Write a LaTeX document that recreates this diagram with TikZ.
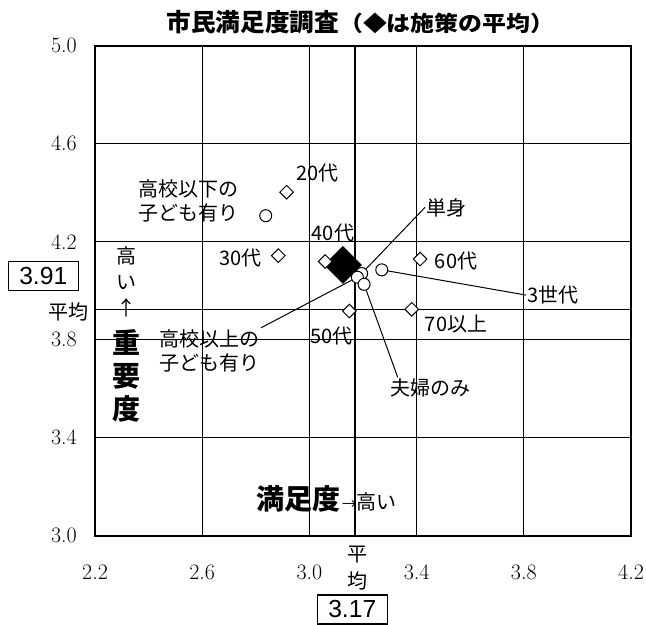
\documentclass[tikz,border=0pt]{standalone}
\usepackage{fontspec}
\usepackage{graphicx}
\newfontfamily\jp{Noto Sans CJK JP}
\newfontfamily\arial{Liberation Sans}
\usetikzlibrary{shapes.geometric}

\begin{document}
\begin{tikzpicture}[x=201pt, y=183.75pt,
		lbl/.style={font=\jp\fontsize{15}{18.5}\selectfont, inner sep=1pt, align=center},
		tick/.style={font=\fontsize{16.5}{20}\selectfont, inner sep=0pt},
		valbox/.style={draw, line width=1.1pt, font=\arial\fontsize{18.5}{20}\selectfont, minimum width=52.5pt, minimum height=21.75pt, inner sep=0pt},
		dia/.style={diamond, draw, fill=white, line width=0.75pt, inner sep=0pt, minimum width=10.5pt, minimum height=10.5pt},
		bigdia/.style={diamond, fill=black, inner sep=0pt, minimum width=28.5pt, minimum height=28.5pt},
		cir/.style={circle, draw, fill=white, line width=0.75pt, inner sep=0pt, minimum size=9pt},
		leader/.style={line width=0.75pt}]
		\useasboundingbox (1.8455,2.6355) rectangle (4.2560,5.18653);

		% Titolo
		\node[font=\jp\bfseries, inner sep=0pt] (title) at (3.19,5.095) {{\fontsize{18.5}{20}\selectfont 市民満足度調査}{\fontsize{16}{20}\selectfont\scalebox{1.12}[1]{（◆は施策の平均）}}};

		% Griglia
		\draw[line width=0.75pt] (2.6,3) -- (2.6,5) (3.0,3) -- (3.0,5) (3.4,3) -- (3.4,5) (3.8,3) -- (3.8,5)
			(2.2,3.4) -- (4.2,3.4) (2.2,3.8) -- (4.2,3.8) (2.2,4.2) -- (4.2,4.2) (2.2,4.6) -- (4.2,4.6);

		% Medie
		\draw[line width=1.3pt] (3.17,3) -- (3.17,5);
		\draw[line width=1.3pt] (2.2,3.923) -- (4.2,3.923);
		\draw[line width=1.5pt] (2.2,3) rectangle (4.2,5);

		% Assi
		\foreach \v [count=\i] in {3.0,3.4,3.8,4.2,4.6,5.0}
			\node[tick, anchor=east] (yt\i) at (2.133,\v) {\v};
		\foreach \v [count=\i] in {2.2,2.6,3.0,3.4,3.8,4.2}
			\node[tick] (xt\i) at (\v,2.852) {\v};

		\node[lbl, anchor=east] (ymean) at (2.183,3.914) {平均};
		\node[lbl, font=\jp\fontsize{15}{20}\selectfont] (xmean) at (3.18,2.8665) {平\\均};
		\node[valbox] (yval) at (2.007,4.059) {3.91};
		\node[valbox] (xval) at (3.160,2.699) {3.17};

		\node[lbl, font=\jp\fontsize{15}{19.5}\selectfont] (yhigh) at (2.318,4.0355) {高\\い\\↑};
		\node[lbl, font=\jp\bfseries\fontsize{21}{24.75}\selectfont] (yname) at (2.318,3.652) {重\\要\\度};
		\node[lbl, font=\jp\bfseries\fontsize{21}{24}\selectfont] (xname) at (2.9586,3.150) {満足度};
		\node[lbl, anchor=base west, inner sep=0pt] (xhigh) at (xname.base east) {{\fontsize{11}{12}\selectfont →}高い};

		% Punti
		\node[bigdia] (avg) at (3.125,4.105) {};
		\node[dia] (d20) at (2.915,4.402) {};
		\node[dia] (d30) at (2.884,4.143) {};
		\node[dia] (d40) at (3.059,4.119) {};
		\node[dia] (d60) at (3.413,4.129) {};
		\node[dia] (d50) at (3.149,3.917) {};
		\node[dia] (d70) at (3.382,3.924) {};

		\node[cir] (kaka) at (2.837,4.306) {};
		\node[cir] (c2) at (3.195,4.070) {};
		\node[cir] (c1) at (3.179,4.055) {};
		\node[cir] (c3) at (3.204,4.026) {};
		\node[cir] (c4) at (3.270,4.085) {};

		% Etichette
		\node[lbl] (l20) at (3.031,4.479) {20代};
		\node[lbl] (l30) at (2.744,4.132) {30代};
		\node[lbl] (l40) at (3.088,4.234) {40代};
		\node[lbl] (l50) at (3.083,3.816) {50代};
		\node[lbl] (l60) at (3.547,4.122) {60代};
		\node[lbl] (l70) at (3.547,3.864) {70以上};
		\node[lbl] (ika) at (2.547,4.367) {高校以下の\\子ども有り};
		\node[lbl] (ijo) at (2.627,3.754) {高校以上の\\子ども有り};
		\node[lbl] (tanshin) at (3.512,4.340) {単身};
		\node[lbl] (sansedai) at (3.910,3.982) {3世代};
		\node[lbl] (fufu) at (3.450,3.602) {夫婦のみ};

		\draw[leader] (ijo.north east) -- (c1);
		\draw[leader] (tanshin.west) -- (c2);
		\draw[leader] ([xshift=7pt]fufu.north west) -- (c3);
		\draw[leader] (sansedai.west) -- (c4);
	\end{tikzpicture}
\end{document}
